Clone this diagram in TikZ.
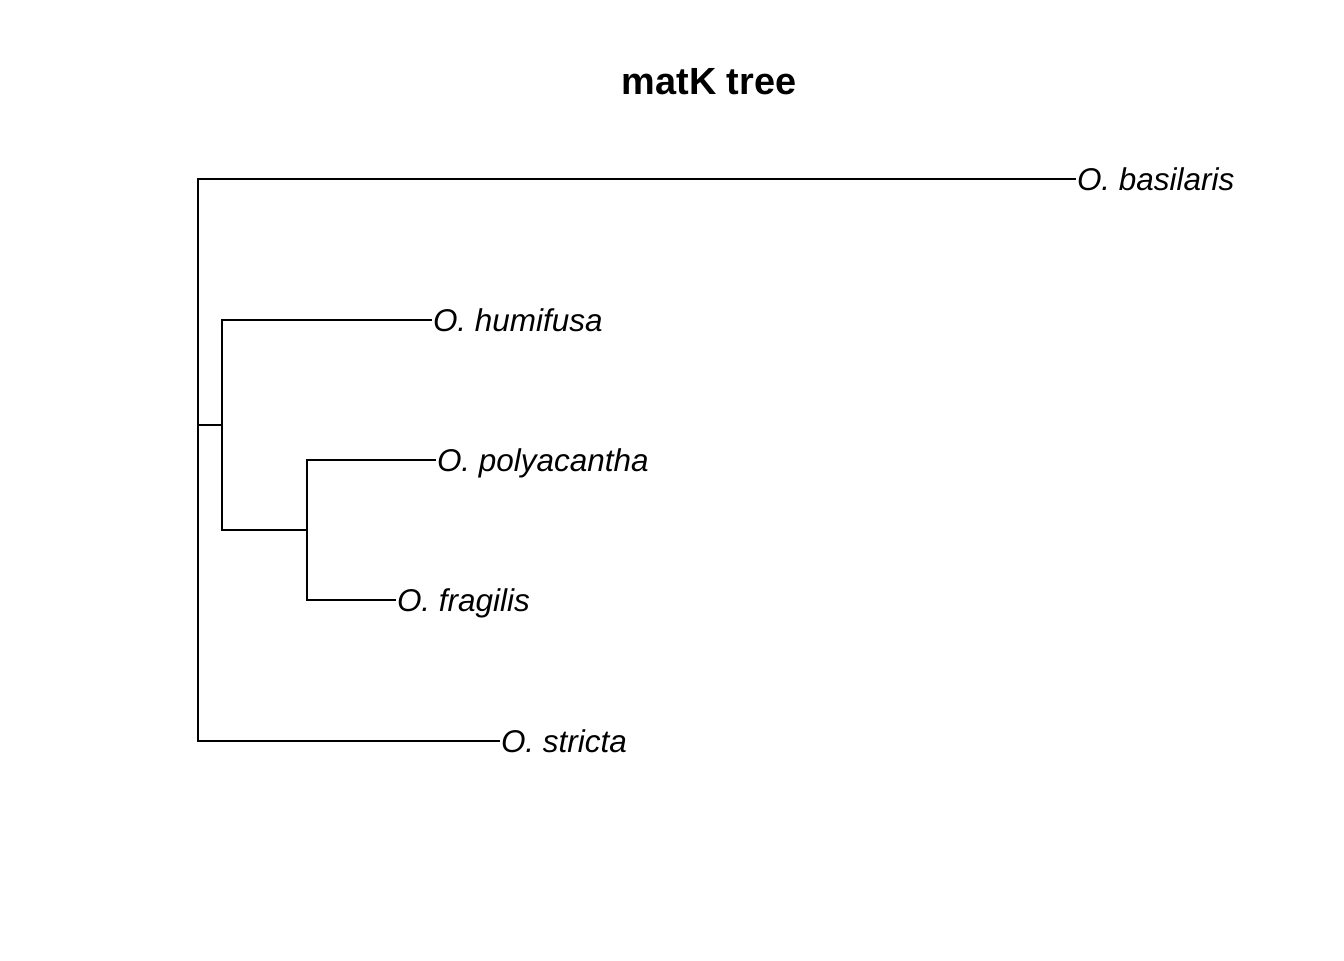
\documentclass[tikz,border=0pt]{standalone}
\usepackage{fontspec}
\setmainfont{Liberation Sans}
\begin{document}
\begin{tikzpicture}[x=0.75pt, y=-0.75pt, line width=1.5pt,
        taxon/.style={anchor=west, inner sep=0pt, text height=16.9pt, text depth=0pt,
            font=\fontsize{23.6}{28}\selectfont\itshape}]
        \useasboundingbox (0, 0) rectangle (1344, 960);

        \node[inner sep=0pt, text height=20.3pt, text depth=0pt,
            font=\fontsize{28.4}{34}\selectfont\bfseries] (title) at (709, 81) {matK tree};

        \coordinate (root) at (198, 425);
        \coordinate (n1) at (222, 425);
        \coordinate (n2) at (307, 530);

        \node[taxon] (basilaris) at (1076, 179) {O. basilaris};
        \node[taxon] (humifusa) at (432, 320) {O. humifusa};
        \node[taxon] (polyacantha) at (436, 460) {O. polyacantha};
        \node[taxon] (fragilis) at (396, 600) {O. fragilis};
        \node[taxon] (stricta) at (500, 741) {O. stricta};

        \draw (root) |- (basilaris.west);
        \draw (root) |- (stricta.west);
        \draw (root) -- (n1);
        \draw (n1) |- (humifusa.west);
        \draw (n1) |- (n2);
        \draw (n2) |- (polyacantha.west);
        \draw (n2) |- (fragilis.west);
    \end{tikzpicture}
\end{document}
